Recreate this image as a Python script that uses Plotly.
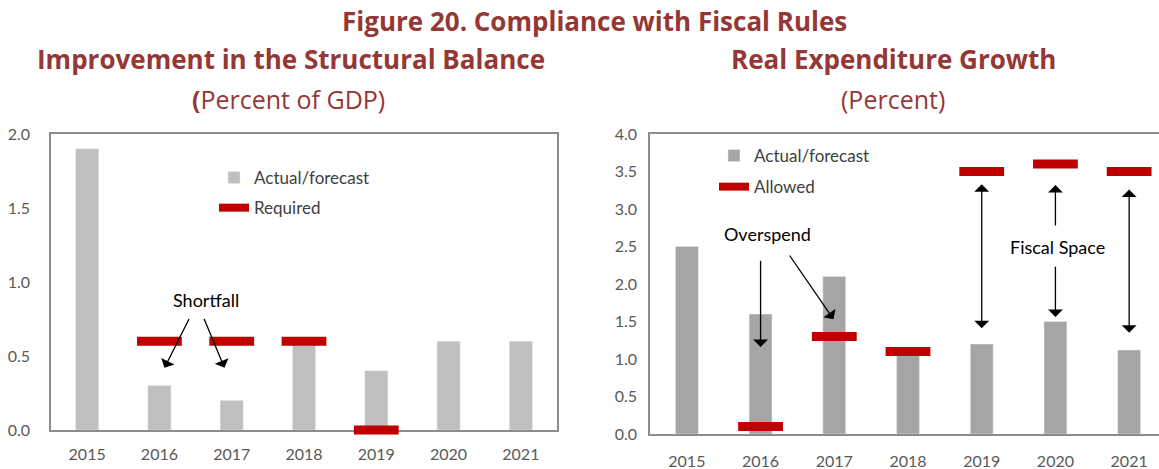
import plotly.graph_objects as go

years = [2015, 2016, 2017, 2018, 2019, 2020, 2021]

# Left: Improvement in the Structural Balance (Percent of GDP)
sb_actual = [1.9, 0.3, 0.2, 0.58, 0.4, 0.6, 0.6]
sb_required = [None, 0.6, 0.6, 0.6, 0.0, None, None]

# Right: Real Expenditure Growth (Percent)
eg_actual = [2.5, 1.6, 2.1, 1.05, 1.2, 1.5, 1.12]
eg_allowed = [None, 0.1, 1.3, 1.1, 3.5, 3.6, 3.5]

W, H = 1159, 469
TITLE_RED = "#953735"
RED = "#C00000"
BOX = "#8C8C8C"
TICK = "#595959"
FONT = "Lato"
TFONT = "Open Sans"

def px(x):
    return x / W

def py(y):
    return 1 - y / H

fig = go.Figure()

red_marker = dict(symbol="line-ew", size=32, line=dict(width=9, color=RED))

# ---- left chart ----
fig.add_trace(go.Bar(x=years, y=sb_actual, name="Actual/forecast", marker_color="#BFBFBF",
                     width=0.32, xaxis="x", yaxis="y", legend="legend", legendgroup="a"))
fig.add_trace(go.Scatter(x=years, y=sb_required, mode="markers", name="Required", showlegend=False,
                         marker=red_marker, cliponaxis=False, xaxis="x", yaxis="y"))
fig.add_trace(go.Scatter(x=[None], y=[None], mode="lines", name="Required",
                         line=dict(color=RED, width=8), xaxis="x", yaxis="y",
                         legend="legend", legendgroup="b"))

# ---- right chart ----
fig.add_trace(go.Bar(x=years, y=eg_actual, name="Actual/forecast", marker_color="#A5A5A5",
                     width=0.31, xaxis="x2", yaxis="y2", legend="legend2", legendgroup="c"))
fig.add_trace(go.Scatter(x=years, y=eg_allowed, mode="markers", name="Allowed", showlegend=False,
                         marker=red_marker, cliponaxis=False, xaxis="x2", yaxis="y2"))
fig.add_trace(go.Scatter(x=[None], y=[None], mode="lines", name="Allowed",
                         line=dict(color=RED, width=8), xaxis="x2", yaxis="y2",
                         legend="legend2", legendgroup="d"))

axis_common = dict(showgrid=False, zeroline=False, showline=True, linecolor=BOX, linewidth=1.5,
                   ticks="", layer="below traces",
                   tickfont=dict(family=FONT, size=16, color=TICK))

legend_common = dict(xanchor="left", yanchor="top", bgcolor="rgba(0,0,0,0)",
                     font=dict(family=FONT, size=17, color="#404040"), traceorder="grouped")

fig.update_layout(
    width=W, height=H,
    margin=dict(l=0, r=0, t=0, b=0, autoexpand=False),
    paper_bgcolor="white", plot_bgcolor="white",
    showlegend=True,
    font=dict(family=FONT),
    xaxis=dict(domain=[px(51), px(557)], range=[2014.5, 2021.5], tickvals=years,
               mirror=True, ticklabelstandoff=9, anchor="y", **axis_common),
    yaxis=dict(domain=[py(430), py(134)], range=[0, 2], dtick=0.5, tickformat=".1f",
               mirror=True, ticklabelstandoff=16, anchor="x", **axis_common),
    xaxis2=dict(domain=[px(650), 1.0], range=[2014.5, 2021.405], tickvals=years,
                mirror=True, ticklabelstandoff=12, anchor="y2", **axis_common),
    yaxis2=dict(domain=[py(434), py(134)], range=[0, 4], dtick=0.5, tickformat=".1f",
                mirror=False, ticklabelstandoff=8, anchor="x2", **axis_common),
    legend=dict(x=px(214), y=py(160), tracegroupgap=5, **legend_common),
    legend2=dict(x=px(714), y=py(138), tracegroupgap=6, **legend_common),
)

# Titles
fig.add_annotation(text="<b>Figure 20. Compliance with Fiscal Rules</b>", xref="paper", yref="paper",
                   x=px(594), y=py(21), xanchor="center", yanchor="middle", showarrow=False,
                   font=dict(family=TFONT, size=26, color=TITLE_RED))
fig.add_annotation(text="<b>Improvement in the Structural Balance</b>", xref="paper", yref="paper",
                   x=px(291), y=py(59), xanchor="center", yanchor="middle", showarrow=False,
                   font=dict(family=TFONT, size=26, color=TITLE_RED))
fig.add_annotation(text="<b>(</b>Percent of GDP)", xref="paper", yref="paper",
                   x=px(288), y=py(99), xanchor="center", yanchor="middle", showarrow=False,
                   font=dict(family=TFONT, size=25, color=TITLE_RED))
fig.add_annotation(text="<b>Real Expenditure Growth</b>", xref="paper", yref="paper",
                   x=px(893), y=py(59), xanchor="center", yanchor="middle", showarrow=False,
                   font=dict(family=TFONT, size=26, color=TITLE_RED))
fig.add_annotation(text="(Percent)", xref="paper", yref="paper",
                   x=px(893), y=py(99), xanchor="center", yanchor="middle", showarrow=False,
                   font=dict(family=TFONT, size=25, color=TITLE_RED))

ann_font = dict(family=FONT, size=18, color="black")
arrow = dict(showarrow=True, arrowhead=1, arrowsize=1.9, arrowwidth=1.3, arrowcolor="black", text="")
double = dict(arrowside="end+start", startarrowhead=1, startarrowsize=1.9)

# Left annotations
fig.add_annotation(text="Shortfall", x=2016.64, y=0.88, xref="x", yref="y", showarrow=False, font=ann_font)
fig.add_annotation(x=2016.07, y=0.42, ax=2016.42, ay=0.76, xref="x", yref="y", axref="x", ayref="y", **arrow)
fig.add_annotation(x=2016.90, y=0.42, ax=2016.61, ay=0.76, xref="x", yref="y", axref="x", ayref="y", **arrow)

# Right annotations
fig.add_annotation(text="Overspend", x=2016.09, y=2.67, xref="x2", yref="y2", showarrow=False, font=ann_font)
fig.add_annotation(x=2016.0, y=1.16, ax=2016.0, ay=2.33, xref="x2", yref="y2", axref="x2", ayref="y2", **arrow)
fig.add_annotation(x=2016.99, y=1.53, ax=2016.38, ay=2.40, xref="x2", yref="y2", axref="x2", ayref="y2", **arrow)
fig.add_annotation(text="Fiscal Space", x=2020.03, y=2.49, xref="x2", yref="y2", showarrow=False, font=ann_font)
fig.add_annotation(x=2019.0, y=1.41, ax=2019.0, ay=3.35, xref="x2", yref="y2", axref="x2", ayref="y2",
                   **double, **arrow)
fig.add_annotation(x=2020.0, y=3.32, ax=2020.0, ay=2.76, xref="x2", yref="y2", axref="x2", ayref="y2", **arrow)
fig.add_annotation(x=2020.0, y=1.56, ax=2020.0, ay=2.25, xref="x2", yref="y2", axref="x2", ayref="y2", **arrow)
fig.add_annotation(x=2021.0, y=1.35, ax=2021.0, ay=3.28, xref="x2", yref="y2", axref="x2", ayref="y2",
                   **double, **arrow)

# remove the default 8px page margin so the figure fills the window exactly
fig.write_html("out.html", config={"displayModeBar": False},
               post_script="document.body.style.margin='0';")
